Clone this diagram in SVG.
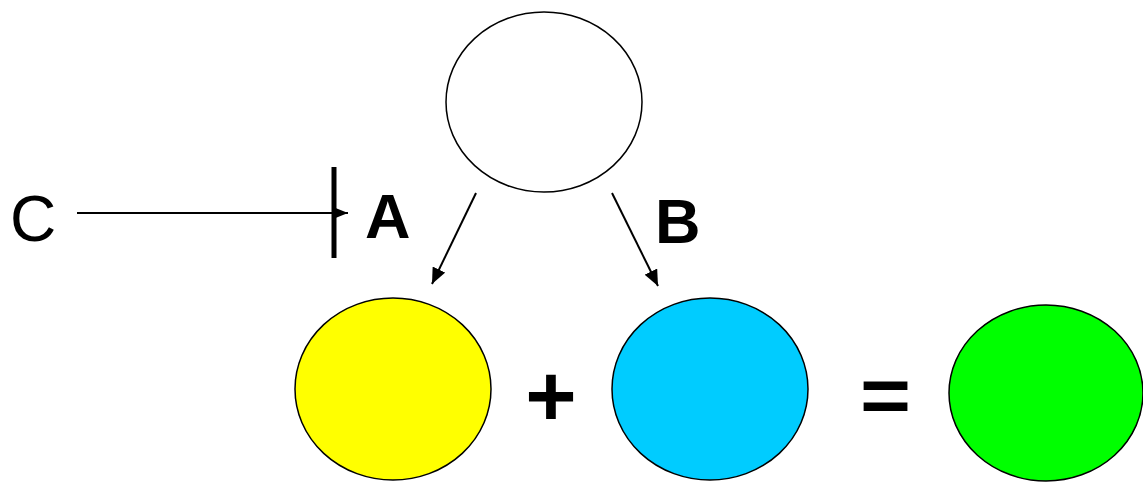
<svg xmlns="http://www.w3.org/2000/svg" width="1143" height="485" viewBox="0 0 1143 485">
<style>
.n{stroke:#000;stroke-width:1.5}
.t{font-family:"Liberation Sans",Arial,sans-serif;fill:#000}
.b{font-weight:bold}
.e{stroke:#000;stroke-width:2;fill:none}
</style>
<defs>
<marker id="ah" viewBox="0 0 15 12" refX="15" refY="6" markerWidth="15" markerHeight="12" markerUnits="userSpaceOnUse" orient="auto">
<path d="M0,0 L15,6 L0,12 z" fill="#000"/>
</marker>
<marker id="ah2" viewBox="0 0 16 14" refX="16" refY="7" markerWidth="16" markerHeight="14" markerUnits="userSpaceOnUse" orient="auto">
<path d="M0,0 L16,7 L0,14 z" fill="#000"/>
</marker>
</defs>
<rect width="1143" height="485" fill="#fff"/>
<g id="top"><ellipse class="n" cx="544" cy="102" rx="98" ry="90" fill="#fff"/></g>
<g id="yellow"><ellipse class="n" cx="393" cy="389" rx="98" ry="91" fill="#ffff00"/></g>
<g id="blue"><ellipse class="n" cx="710" cy="389" rx="98" ry="91" fill="#00ccff"/></g>
<g id="green"><ellipse class="n" cx="1046" cy="393" rx="97" ry="88" fill="#00ff00"/></g>
<g id="C"><text class="t" x="10" y="241" font-size="64">C</text></g>
<g id="A"><text class="t b" x="365" y="238" font-size="63">A</text></g>
<g id="B"><text class="t b" x="655" y="243" font-size="63">B</text></g>
<g id="plus"><text class="t b" x="551" y="426" font-size="88" text-anchor="middle">+</text></g>
<g id="equals"><text class="t b" font-size="78" text-anchor="middle" transform="translate(885.5 422) scale(1.12 1)">=</text></g>
<g id="connectors">
<line class="e" x1="77" y1="213" x2="348" y2="213" marker-end="url(#ah)"/>
<line x1="334" y1="167" x2="334" y2="258" stroke="#000" stroke-width="5"/>
<line class="e" x1="476" y1="193" x2="432" y2="284" marker-end="url(#ah2)"/>
<line class="e" x1="612" y1="193" x2="658" y2="286" marker-end="url(#ah2)"/>
</g>
</svg>
